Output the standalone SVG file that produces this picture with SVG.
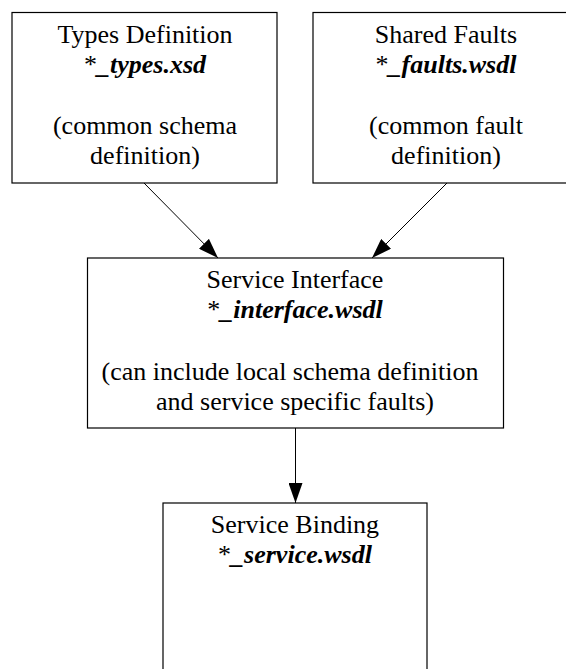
<svg xmlns="http://www.w3.org/2000/svg" width="566" height="669" viewBox="0 0 566 669">
<defs>
<marker id="ah" markerUnits="userSpaceOnUse" markerWidth="20" markerHeight="14" refX="20" refY="7" orient="auto">
<path d="M0,0 L20,7 L0,14 Z" fill="#000"/>
</marker>
<style>
.box{fill:#fff;stroke:#000;stroke-width:1.2}
text{font-size:26px;fill:#000;text-anchor:middle}
.fn{font-weight:bold;font-style:italic}
.edge{stroke:#000;stroke-width:1;fill:none;marker-end:url(#ah)}
</style>
</defs>
<rect width="566" height="669" fill="#fff"/>
<g font-family="'Liberation Serif', 'Times New Roman', 'DejaVu Serif', serif">
<g id="types">
<rect class="box" x="12" y="12.5" width="265" height="170.5"/>
<text x="145" y="43">Types Definition</text>
<text x="145" y="73">*<tspan class="fn">_types.xsd</tspan></text>
<text x="145" y="134">(common schema</text>
<text x="145" y="164">definition)</text>
</g>
<g id="faults">
<rect class="box" x="313" y="12.5" width="266" height="170.5"/>
<text x="446" y="43">Shared Faults</text>
<text x="446" y="73">*<tspan class="fn">_faults.wsdl</tspan></text>
<text x="446" y="134">(common fault</text>
<text x="446" y="164">definition)</text>
</g>
<g id="interface">
<rect class="box" x="87.5" y="258" width="416" height="170"/>
<text x="295" y="288">Service Interface</text>
<text x="295" y="318">*<tspan class="fn">_interface.wsdl</tspan></text>
<text x="290" y="380">(can include local schema definition</text>
<text x="295" y="410">and service specific faults)</text>
</g>
<g id="service">
<rect class="box" x="163" y="503" width="264" height="220"/>
<text x="295" y="533">Service Binding</text>
<text x="295" y="563">*<tspan class="fn">_service.wsdl</tspan></text>
</g>
</g>
<g id="connectors">
<line class="edge" x1="144" y1="183" x2="218" y2="258"/>
<line class="edge" x1="447" y1="183" x2="372" y2="258"/>
<line class="edge" x1="295.5" y1="428" x2="295.5" y2="503"/>
</g>
</svg>
